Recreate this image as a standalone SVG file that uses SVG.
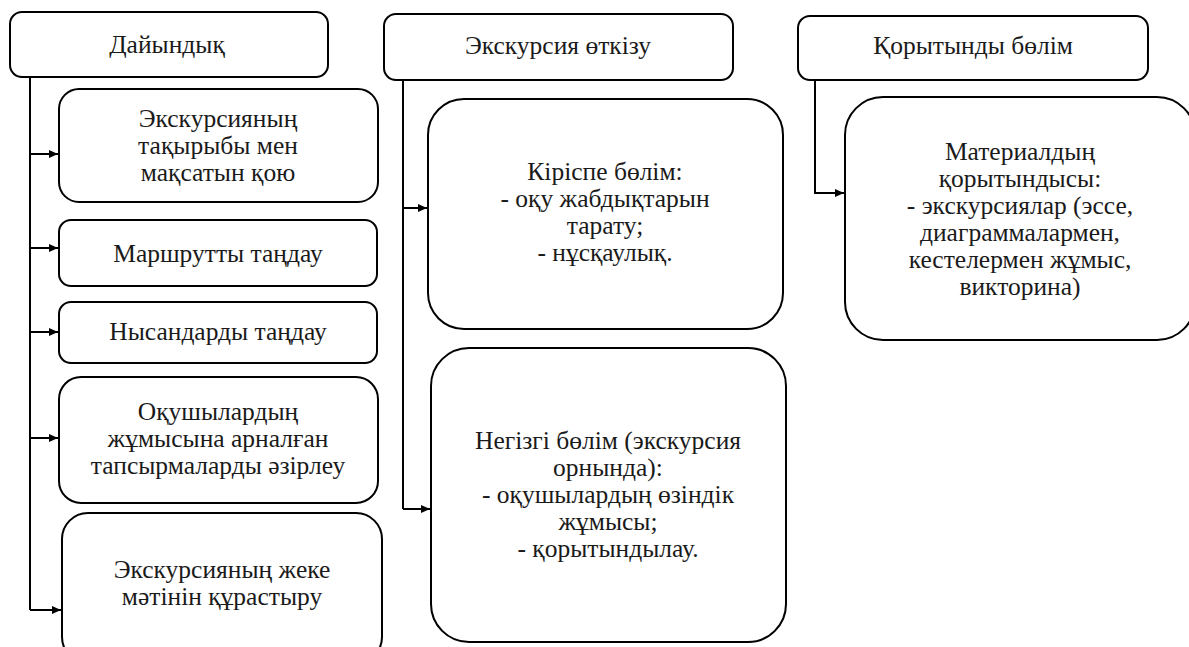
<svg xmlns="http://www.w3.org/2000/svg" width="1189" height="647" viewBox="0 0 1189 647">
<defs>
<marker id="ah" markerUnits="userSpaceOnUse" markerWidth="10" markerHeight="8" refX="9" refY="4" orient="auto">
<path d="M0,0 L9,4 L0,8 Z" fill="#000"/>
</marker>
<style>
.box{fill:#fff;stroke:#000;stroke-width:2}
.t{font-family:'Liberation Serif','Times New Roman',serif;font-size:25.5px;fill:#1a1a1a;text-anchor:middle}
.c{fill:none;stroke:#000;stroke-width:2}
</style>
</defs>
<rect width="1189" height="647" fill="#fff"/>
<g id="connectors">
<path class="c" d="M30,77 V610"/>
<path class="c" d="M30,154 H58" marker-end="url(#ah)"/>
<path class="c" d="M30,248 H58" marker-end="url(#ah)"/>
<path class="c" d="M30,332 H58" marker-end="url(#ah)"/>
<path class="c" d="M30,438 H58" marker-end="url(#ah)"/>
<path class="c" d="M30,610 H61" marker-end="url(#ah)"/>
<path class="c" d="M403,80 V509"/>
<path class="c" d="M403,208 H427" marker-end="url(#ah)"/>
<path class="c" d="M403,509 H430" marker-end="url(#ah)"/>
<path class="c" d="M815,80 V193 H844" marker-end="url(#ah)"/>
</g>
<g id="n-dayyndyk">
<rect class="box" x="10" y="12" width="318" height="65" rx="12"/>
<text class="t" x="167" y="53">Дайындық</text>
</g>
<g id="n-takyryp">
<rect class="box" x="59" y="89" width="319" height="113" rx="20"/>
<text class="t" x="218" y="127">Экскурсияның</text>
<text class="t" x="218" y="154">тақырыбы мен</text>
<text class="t" x="218" y="181">мақсатын қою</text>
</g>
<g id="n-marshrut">
<rect class="box" x="59" y="220" width="318" height="66" rx="12"/>
<text class="t" x="218" y="262">Маршрутты таңдау</text>
</g>
<g id="n-nysan">
<rect class="box" x="59" y="302" width="318" height="61" rx="12"/>
<text class="t" x="218" y="340">Нысандарды таңдау</text>
</g>
<g id="n-tapsyrma">
<rect class="box" x="59" y="377" width="319" height="126" rx="22"/>
<text class="t" x="218" y="420">Оқушылардың</text>
<text class="t" x="218" y="447">жұмысына арналған</text>
<text class="t" x="218" y="474">тапсырмаларды әзірлеу</text>
</g>
<g id="n-matin">
<rect class="box" x="62" y="513" width="320" height="150" rx="26"/>
<text class="t" x="222" y="578">Экскурсияның жеке</text>
<text class="t" x="222" y="605">мәтінін құрастыру</text>
</g>
<g id="n-otkizu">
<rect class="box" x="384" y="14" width="349" height="66" rx="12"/>
<text class="t" x="558" y="54">Экскурсия өткізу</text>
</g>
<g id="n-kirispe">
<rect class="box" x="428" y="99" width="355" height="230" rx="36"/>
<text class="t" x="605" y="180">Кіріспе бөлім:</text>
<text class="t" x="605" y="207">- оқу жабдықтарын</text>
<text class="t" x="605" y="234">тарату;</text>
<text class="t" x="605" y="261">- нұсқаулық.</text>
</g>
<g id="n-negizgi">
<rect class="box" x="431" y="348" width="355" height="294" rx="38"/>
<text class="t" x="608" y="449">Негізгі бөлім (экскурсия</text>
<text class="t" x="608" y="476">орнында):</text>
<text class="t" x="608" y="503">- оқушылардың өзіндік</text>
<text class="t" x="608" y="530">жұмысы;</text>
<text class="t" x="608" y="557">- қорытындылау.</text>
</g>
<g id="n-korytyndy">
<rect class="box" x="798" y="16" width="350" height="64" rx="12"/>
<text class="t" x="973" y="54">Қорытынды бөлім</text>
</g>
<g id="n-material">
<rect class="box" x="845" y="97" width="350" height="243" rx="38"/>
<text class="t" x="1020" y="160">Материалдың</text>
<text class="t" x="1020" y="187">қорытындысы:</text>
<text class="t" x="1020" y="214">- экскурсиялар (эссе,</text>
<text class="t" x="1020" y="241">диаграммалармен,</text>
<text class="t" x="1020" y="268">кестелермен жұмыс,</text>
<text class="t" x="1020" y="295">викторина)</text>
</g>
</svg>
